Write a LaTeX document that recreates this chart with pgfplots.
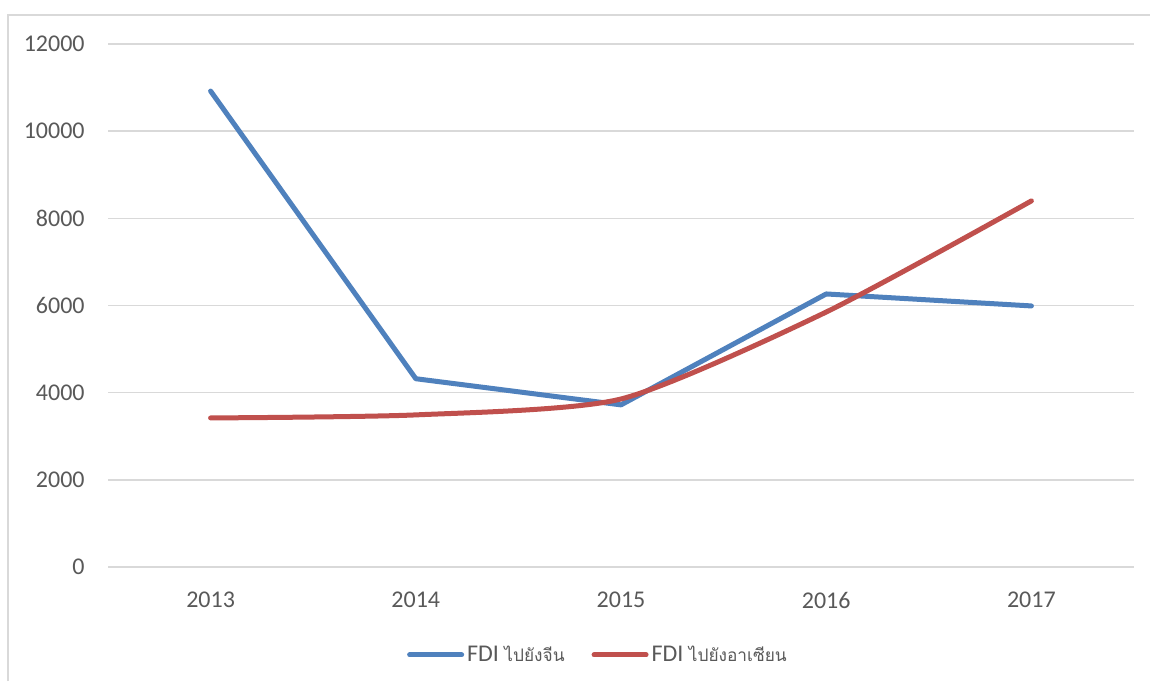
\documentclass[border=0pt]{standalone}
\usepackage{fontspec}
\setmainfont{Carlito}
\newfontfamily\thaifont[Script=Thai,Scale=0.72]{Loma}
\usepackage{pgfplots}
\pgfplotsset{compat=1.18}
\definecolor{sblue}{HTML}{4F81BD}
\definecolor{sred}{HTML}{C0504D}
\definecolor{gridc}{HTML}{D9D9D9}
\definecolor{txt}{HTML}{595959}
\begin{document}
\begin{tikzpicture}
\path[use as bounding box, fill=white] (0,0) rectangle (575pt,340.5pt);
\draw[gridc, line width=0.75pt] (4pt,0pt) -- (4pt,333pt) -- (575pt,333pt);
\begin{axis}[
  at={(54pt,57pt)}, anchor=south west,
  scale only axis, width=513pt, height=261.5pt,
  xmin=2012.5, xmax=2017.5, ymin=0, ymax=12000,
  xtick={2013,2014,2015,2016,2017},
  xticklabels={2013,2014,2015,2016,2017},
  ytick={0,2000,4000,6000,8000,10000,12000},
  scaled y ticks=false,
  /pgf/number format/assume math mode=true,
  yticklabel={\pgfmathprintnumber[fixed,1000 sep={}]{\tick}},
  ymajorgrids, major grid style={gridc, line width=0.75pt},
  axis line style={draw=none},
  major tick length=0pt,
  tick label style={font=\fontsize{12}{14}\selectfont, text=txt},
  yticklabel style={anchor=east, inner sep=0pt, xshift=-11.5pt},
  xticklabel style={anchor=center, inner sep=0pt, yshift=-16.5pt},
  legend columns=2,
  legend style={draw=none, at={(0.478,-0.168)}, anchor=center,
    font=\fontsize{12}{14}\selectfont, text=txt,
    inner sep=0pt, nodes={inner sep=1.5pt}},
  legend image code/.code={\draw[#1, line width=2.5pt, line cap=round] (0pt,0pt) -- (26pt,0pt);},
  every axis plot/.append style={line width=2.5pt, line cap=round, line join=round},
  clip=false,
]
\draw[gridc, line width=0.75pt] (axis cs:2012.5,0) -- (axis cs:2017.5,0);
\addplot[sblue] coordinates {(2013,10920) (2014,4320) (2015,3720) (2016,6265) (2017,5990)};
\addlegendentry{FDI {\thaifont ไปยังจีน}\kern12pt\null}
\addplot[sred, smooth, tension=0.4] coordinates {(2013,3420) (2014,3490) (2015,3855) (2016,5850) (2017,8400)};
\addlegendentry{FDI {\thaifont ไปยังอาเซียน}}
\end{axis}
\end{tikzpicture}
\end{document}
